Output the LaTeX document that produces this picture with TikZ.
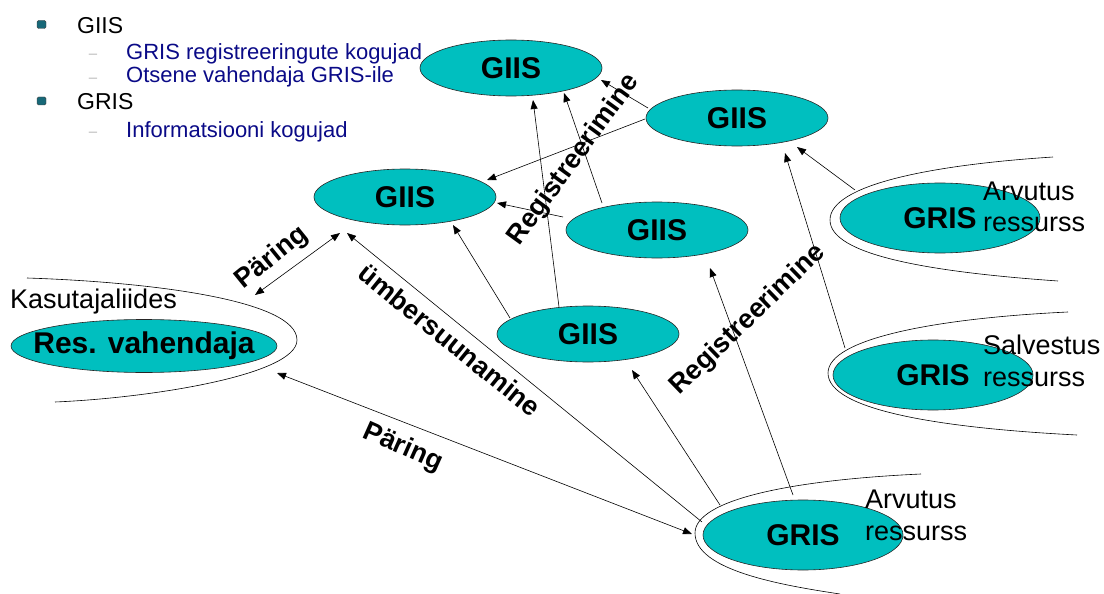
\documentclass[tikz,border=0pt]{standalone}
\usepackage{fontspec}
\setmainfont{Liberation Sans}
\usetikzlibrary{arrows.meta,calc,shapes.geometric}
\definecolor{teal1}{RGB}{0,191,191}
\definecolor{navy1}{RGB}{10,10,135}
\definecolor{bul}{RGB}{24,104,120}
\begin{document}
\begin{tikzpicture}[x=1pt,y=-1pt,
  ell/.style={ellipse,draw=black!85,line width=0.6pt,fill=teal1,inner sep=0pt,font=\fontsize{30}{32}\selectfont\bfseries},
  giis/.style={ell,minimum width=182pt,minimum height=56pt},
  gris/.style={ell,minimum width=200pt,minimum height=70pt},
  arr/.style={line width=0.6pt,-{Triangle[length=9pt,width=7pt]}},
  darr/.style={line width=0.6pt,{Triangle[length=9pt,width=7pt]}-{Triangle[length=9pt,width=7pt]}},
  lbl/.style={font=\fontsize{27}{29}\selectfont\bfseries,inner sep=0pt},
  restxt/.style={font=\fontsize{27}{31}\selectfont,inner sep=0pt,anchor=base west},
  hull/.style={line width=0.6pt},
  bulletbox/.style={draw=black!75,fill=bul,rounded corners=1.5pt,minimum width=9pt,minimum height=8pt,inner sep=0pt},
  lvlone/.style={font=\fontsize{23}{25}\selectfont,inner sep=0pt,anchor=base west},
  lvltwo/.style={font=\fontsize{22}{24}\selectfont,text=navy1,inner sep=0pt,anchor=base west},
  dashmark/.style={font=\fontsize{15}{17}\selectfont,text=gray!55,inner sep=0pt,anchor=base}
]
\useasboundingbox (0,0) rectangle (1104,594);

% legend
\node[bulletbox] (b1) at (41.5,24.5) {};
\node[lvlone] (l1) at (77,34) {GIIS};
\node[dashmark] (d1) at (93,59) {–};
\node[lvltwo] (l2) at (126,60) {GRIS registreeringute kogujad};
\node[dashmark] (d2) at (93,82) {–};
\node[lvltwo] (l3) at (126,83) {Otsene vahendaja GRIS-ile};
\node[bulletbox] (b2) at (41.5,101) {};
\node[lvlone] (l4) at (77,110) {GRIS};
\node[dashmark] (d3) at (93,136) {–};
\node[lvltwo] (l5) at (126,137) {Informatsiooni kogujad};

% outer hulls
\draw[hull] (27,278) .. controls (150,282) and (297,300) .. (297,340) .. controls (297,375) and (150,398) .. (55,402);
\draw[hull] (1053,157) .. controls (930,165) and (830,185) .. (830,220) .. controls (830,255) and (930,272) .. (1058,281);
\draw[hull] (1068,312) .. controls (940,318) and (828,338) .. (828,373) .. controls (828,410) and (940,428) .. (1077,435);
\draw[hull] (921,474) .. controls (790,480) and (695,500) .. (695,533) .. controls (695,570) and (780,585) .. (840,594);

% ellipses
\node[giis] (gA) at (511,68) {GIIS};
\node[giis] (gB) at (737,118) {GIIS};
\node[giis] (gC) at (405,197) {GIIS};
\node[giis] (gD) at (657,230) {GIIS};
\node[giis] (gE) at (588,334) {GIIS};
\node[ell,inner xsep=-40pt,inner ysep=-10pt,minimum width=266pt,minimum height=53pt] (rv) at (144,346) {Res. vahendaja};
\node[gris] (rA) at (940,218) {GRIS};
\node[gris] (rB) at (933,375) {GRIS};
\node[gris] (rC) at (803,535) {GRIS};

% resource texts
\node[restxt] (ka) at (10,308) {Kasutajaliides};
\node[restxt] (ta1) at (983,200) {Arvutus};
\node[restxt] (ta2) at (983,231) {ressurss};
\node[restxt] (tb1) at (983,354) {Salvestus};
\node[restxt] (tb2) at (983,386) {ressurss};
\node[restxt] (tc1) at (865,508) {Arvutus};
\node[restxt] (tc2) at (865,540) {ressurss};

% connectors
\draw[arr] ($(gB)+(-89,-10)$) -- ($(gA)+(90,12)$);
\draw[arr] ($(gB)+(-92,1)$) -- ($(gC)+(82,-17)$);
\draw[arr] ($(gD)+(-94,-13)$) -- ($(gC)+(92,6)$);
\draw[arr] ($(gD)+(-55,-27)$) -- ($(gA)+(53,25)$);
\draw[arr] ($(gE)+(-29,-27)$) -- ($(gA)+(22,32)$);
\draw[arr] ($(gE)+(-78,-16)$) -- ($(gC)+(48,28)$);
\draw[arr] ($(rC)+(-101,-13)$) -- ($(gC)+(-58,36)$);
\draw[arr] ($(rC)+(-10,-40)$) -- ($(gD)+(53,38)$);
\draw[arr] ($(rC)+(-83,-30)$) -- ($(gE)+(44,36)$);
\draw[darr] ($(rv)+(133,27)$) -- ($(rC)+(-111,-1)$);
\draw[darr] ($(rv)+(111,-51)$) -- ($(gC)+(-65,36)$);
\draw[arr] ($(rA)+(-85,-28)$) -- ($(gB)+(60,29)$);
\draw[arr] ($(rB)+(-88,-27)$) -- ($(gB)+(48,35)$);

% connector labels
\node[lbl,rotate=54] (reg1) at (574,160) {Registreerimine};
\node[lbl,rotate=44] (reg2) at (748,320) {Registreerimine};
\node[lbl,rotate=39] (par1) at (272,258) {Päring};
\node[lbl,rotate=-39] (umb) at (450,340) {ümbersuunamine};
\node[lbl,rotate=-24] (par2) at (403,448) {Päring};
\end{tikzpicture}
\end{document}
